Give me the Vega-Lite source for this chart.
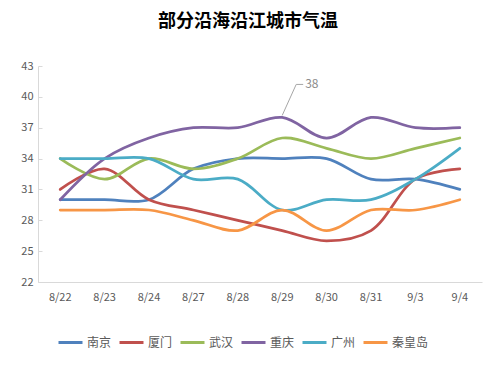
{
  "$schema": "https://vega.github.io/schema/vega-lite/v6.json",
  "width": 444,
  "height": 216,
  "autosize": {"type": "none"},
  "padding": {"left": 38, "top": 66, "right": 15, "bottom": 88},
  "background": "white",
  "title": {
    "text": "部分沿海沿江城市气温",
    "font": "Noto Sans CJK SC",
    "fontSize": 18,
    "fontWeight": "bold",
    "color": "#000000",
    "anchor": "middle",
    "dx": -12,
    "offset": 29
  },
  "config": {
    "view": {"stroke": null},
    "font": "Noto Sans CJK SC"
  },
  "datasets": {
    "temps": [
      {"date": "8/22", "city": "南京", "t": 30}, {"date": "8/23", "city": "南京", "t": 30}, {"date": "8/24", "city": "南京", "t": 30}, {"date": "8/27", "city": "南京", "t": 33}, {"date": "8/28", "city": "南京", "t": 34}, {"date": "8/29", "city": "南京", "t": 34}, {"date": "8/30", "city": "南京", "t": 34}, {"date": "8/31", "city": "南京", "t": 32}, {"date": "9/3", "city": "南京", "t": 32}, {"date": "9/4", "city": "南京", "t": 31},
      {"date": "8/22", "city": "厦门", "t": 31}, {"date": "8/23", "city": "厦门", "t": 33}, {"date": "8/24", "city": "厦门", "t": 30}, {"date": "8/27", "city": "厦门", "t": 29}, {"date": "8/28", "city": "厦门", "t": 28}, {"date": "8/29", "city": "厦门", "t": 27}, {"date": "8/30", "city": "厦门", "t": 26}, {"date": "8/31", "city": "厦门", "t": 27}, {"date": "9/3", "city": "厦门", "t": 32}, {"date": "9/4", "city": "厦门", "t": 33},
      {"date": "8/22", "city": "武汉", "t": 34}, {"date": "8/23", "city": "武汉", "t": 32}, {"date": "8/24", "city": "武汉", "t": 34}, {"date": "8/27", "city": "武汉", "t": 33}, {"date": "8/28", "city": "武汉", "t": 34}, {"date": "8/29", "city": "武汉", "t": 36}, {"date": "8/30", "city": "武汉", "t": 35}, {"date": "8/31", "city": "武汉", "t": 34}, {"date": "9/3", "city": "武汉", "t": 35}, {"date": "9/4", "city": "武汉", "t": 36},
      {"date": "8/22", "city": "重庆", "t": 30}, {"date": "8/23", "city": "重庆", "t": 34}, {"date": "8/24", "city": "重庆", "t": 36}, {"date": "8/27", "city": "重庆", "t": 37}, {"date": "8/28", "city": "重庆", "t": 37}, {"date": "8/29", "city": "重庆", "t": 38}, {"date": "8/30", "city": "重庆", "t": 36}, {"date": "8/31", "city": "重庆", "t": 38}, {"date": "9/3", "city": "重庆", "t": 37}, {"date": "9/4", "city": "重庆", "t": 37},
      {"date": "8/22", "city": "广州", "t": 34}, {"date": "8/23", "city": "广州", "t": 34}, {"date": "8/24", "city": "广州", "t": 34}, {"date": "8/27", "city": "广州", "t": 32}, {"date": "8/28", "city": "广州", "t": 32}, {"date": "8/29", "city": "广州", "t": 29}, {"date": "8/30", "city": "广州", "t": 30}, {"date": "8/31", "city": "广州", "t": 30}, {"date": "9/3", "city": "广州", "t": 32}, {"date": "9/4", "city": "广州", "t": 35},
      {"date": "8/22", "city": "秦皇岛", "t": 29}, {"date": "8/23", "city": "秦皇岛", "t": 29}, {"date": "8/24", "city": "秦皇岛", "t": 29}, {"date": "8/27", "city": "秦皇岛", "t": 28}, {"date": "8/28", "city": "秦皇岛", "t": 27}, {"date": "8/29", "city": "秦皇岛", "t": 29}, {"date": "8/30", "city": "秦皇岛", "t": 27}, {"date": "8/31", "city": "秦皇岛", "t": 29}, {"date": "9/3", "city": "秦皇岛", "t": 29}, {"date": "9/4", "city": "秦皇岛", "t": 30}
    ],
    "note": [{"date": "8/29", "t": 38, "label": "38"}]
  },
  "encoding": {
    "x": {
      "field": "date", "type": "ordinal", "sort": null,
      "scale": {"type": "band", "paddingInner": 0, "paddingOuter": 0},
      "axis": {"title": null, "labelAngle": 0, "ticks": false, "domainColor": "#d9d9d9", "domainWidth": 1, "labelColor": "#595959", "labelFontSize": 11, "labelPadding": 9, "labelFont": "Noto Sans CJK SC", "labelOverlap": false}
    },
    "y": {
      "field": "t", "type": "quantitative",
      "scale": {"domain": [22, 43], "nice": false, "zero": false},
      "axis": {"title": null, "values": [22, 25, 28, 31, 34, 37, 40, 43], "labelOverlap": false, "grid": false, "domainColor": "#d9d9d9", "tickColor": "#d9d9d9", "tickSize": -4, "labelPadding": 9, "labelColor": "#595959", "labelFontSize": 11, "labelFont": "Noto Sans CJK SC"}
    }
  },
  "layer": [
    {
      "data": {"name": "temps"},
      "mark": {"type": "line", "interpolate": "catmull-rom", "strokeWidth": 2.75, "strokeCap": "round"},
      "encoding": {
        "color": {
          "field": "city", "type": "nominal", "sort": ["南京", "厦门", "武汉", "重庆", "广州", "秦皇岛"],
          "scale": {"domain": ["南京", "厦门", "武汉", "重庆", "广州", "秦皇岛"], "range": ["#4F81BD", "#C0504D", "#9BBB59", "#8064A2", "#4BACC6", "#F79646"]},
          "legend": {"title": null, "orient": "none", "legendX": 19, "legendY": 263, "direction": "horizontal", "gridAlign": "none", "symbolType": "stroke", "symbolStrokeWidth": 3, "symbolSize": 576, "labelFontSize": 12, "labelColor": "#595959", "labelOffset": 3, "columnPadding": 1, "labelFont": "Noto Sans CJK SC"}
        }
      }
    },
    {
      "data": {"name": "note"},
      "mark": {"type": "rule", "color": "#a6a6a6", "strokeWidth": 1, "yOffset": -2, "x2Offset": 14, "y2Offset": -33},
      "encoding": {
        "x2": {"field": "date"},
        "y2": {"field": "t"}
      }
    },
    {
      "data": {"name": "note"},
      "mark": {"type": "rule", "color": "#a6a6a6", "strokeWidth": 1, "xOffset": 14, "yOffset": -33, "x2Offset": 21, "y2Offset": -33},
      "encoding": {
        "x2": {"field": "date"},
        "y2": {"field": "t"}
      }
    },
    {
      "data": {"name": "note"},
      "mark": {"type": "text", "align": "left", "baseline": "middle", "dx": 23, "dy": -33, "fontSize": 12, "color": "#8c8c8c", "font": "Noto Sans CJK SC"},
      "encoding": {
        "text": {"field": "label"}
      }
    }
  ]
}
